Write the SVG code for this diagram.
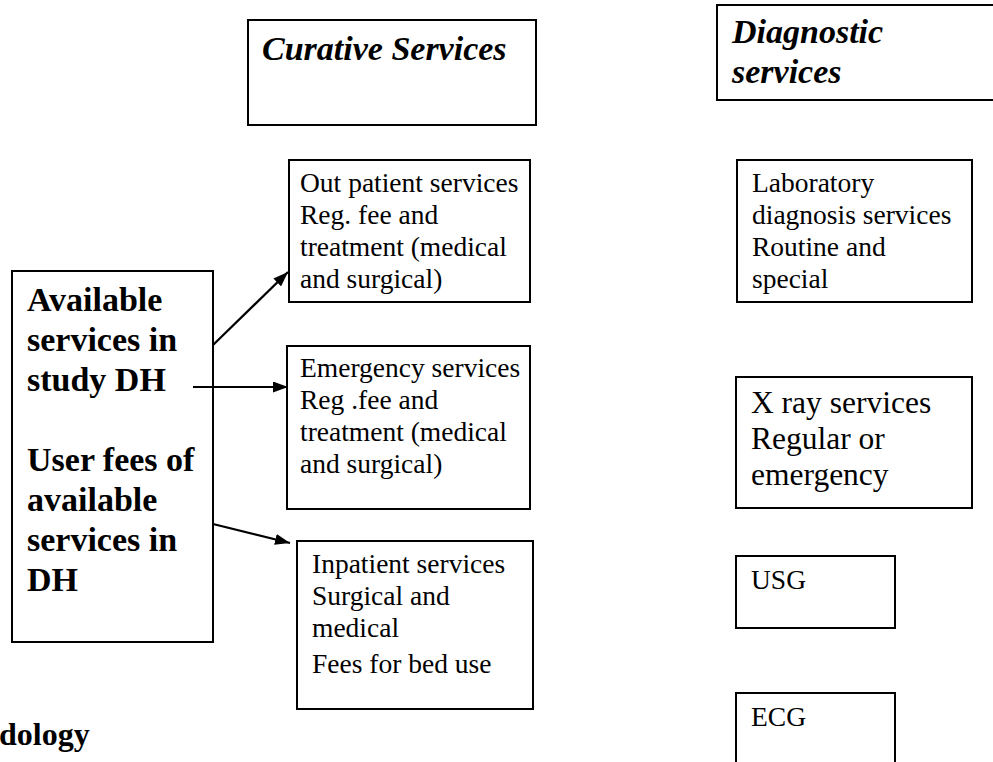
<svg xmlns="http://www.w3.org/2000/svg" width="993" height="762" viewBox="0 0 993 762">
<style>
  .box { fill: #ffffff; stroke: #000000; stroke-width: 2; }
  .t { font-family: "Liberation Serif", "Times New Roman", serif; font-size: 27.5px; fill: #000; }
  .tl { font-family: "Liberation Serif", "Times New Roman", serif; font-size: 31.5px; fill: #000; }
  .hd { font-family: "Liberation Serif", "Times New Roman", serif; font-size: 34px; font-weight: bold; font-style: italic; fill: #000; }
  .bd { font-family: "Liberation Serif", "Times New Roman", serif; font-size: 34px; font-weight: bold; fill: #000; }
  .conn { stroke: #000; stroke-width: 2.2; fill: none; marker-end: url(#arr); }
</style>
<defs>
  <marker id="arr" viewBox="0 0 15 11" refX="15" refY="5.5" markerWidth="15" markerHeight="11" markerUnits="userSpaceOnUse" orient="auto">
    <path d="M0,0 L15,5.5 L0,11 Z" fill="#000"/>
  </marker>
</defs>
<rect width="993" height="762" fill="#fff"/>

<g id="curative">
  <rect class="box" x="248" y="20" width="288" height="105"/>
  <text class="hd" x="262" y="60">Curative Services</text>
</g>

<g id="diagnostic">
  <rect class="box" x="717" y="5" width="290" height="95"/>
  <text class="hd" x="732" y="43">Diagnostic</text>
  <text class="hd" x="732" y="83">services</text>
</g>

<g id="available">
  <rect class="box" x="12" y="271" width="201" height="371"/>
  <text class="bd" x="27" y="311">Available</text>
  <text class="bd" x="27" y="351">services in</text>
  <text class="bd" x="27" y="391">study DH</text>
  <text class="bd" x="27" y="471">User fees of</text>
  <text class="bd" x="27" y="511">available</text>
  <text class="bd" x="27" y="551">services in</text>
  <text class="bd" x="27" y="591">DH</text>
</g>

<g id="outpatient">
  <rect class="box" x="289" y="160" width="241" height="142"/>
  <text class="t" x="300" y="192">Out patient services</text>
  <text class="t" x="300" y="224">Reg. fee and</text>
  <text class="t" x="300" y="256">treatment (medical</text>
  <text class="t" x="300" y="288">and surgical)</text>
</g>

<g id="emergency">
  <rect class="box" x="287" y="346" width="243" height="163"/>
  <text class="t" x="300" y="377">Emergency services</text>
  <text class="t" x="300" y="409">Reg .fee  and</text>
  <text class="t" x="300" y="441">treatment (medical</text>
  <text class="t" x="300" y="473">and surgical)</text>
</g>

<g id="inpatient">
  <rect class="box" x="297" y="541" width="236" height="168"/>
  <text class="t" x="312" y="573">Inpatient services</text>
  <text class="t" x="312" y="605">Surgical and</text>
  <text class="t" x="312" y="637">medical</text>
  <text class="t" x="312" y="673">Fees for bed use</text>
</g>

<g id="laboratory">
  <rect class="box" x="737" y="160" width="235" height="142"/>
  <text class="t" x="752" y="192">Laboratory</text>
  <text class="t" x="752" y="224">diagnosis services</text>
  <text class="t" x="752" y="256">Routine and</text>
  <text class="t" x="752" y="288">special</text>
</g>

<g id="xray">
  <rect class="box" x="736" y="377" width="236" height="131"/>
  <text class="tl" x="751" y="413">X ray services</text>
  <text class="tl" x="751" y="449">Regular or</text>
  <text class="tl" x="751" y="485">emergency</text>
</g>

<g id="usg">
  <rect class="box" x="736" y="556" width="159" height="72"/>
  <text class="t" x="751" y="589">USG</text>
</g>

<g id="ecg">
  <rect class="box" x="736" y="693" width="159" height="90"/>
  <text class="t" x="751" y="726">ECG</text>
</g>

<g id="methodology">
  <text class="bd" x="-1" y="745" style="font-size:32px">dology</text>
</g>

<g id="connectors">
  <line class="conn" x1="213" y1="345" x2="288" y2="272"/>
  <line class="conn" x1="193" y1="387" x2="288" y2="387"/>
  <line class="conn" x1="213" y1="524" x2="290" y2="543"/>
</g>
</svg>
